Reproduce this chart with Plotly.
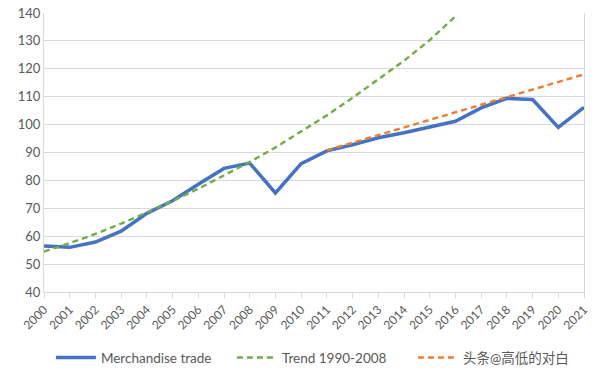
import plotly.graph_objects as go

years = list(range(2000, 2022))
merch = [56.5, 56.0, 57.9, 61.8, 68.2, 72.7, 78.6, 84.3, 86.2, 75.5, 86.0, 90.6,
         92.8, 95.3, 97.1, 99.2, 101.2, 106.0, 109.4, 109.0, 99.0, 106.2]
trend_years = list(range(2000, 2017))
trend_9008 = [54.5, 57.5, 60.8, 64.5, 68.5, 72.6, 77.0, 81.7, 86.6, 91.8, 97.4,
              103.3, 109.6, 116.1, 122.9, 130.3, 138.8]
trend2_years = list(range(2011, 2022))
trend_2 = [90.8, 93.5, 96.2, 99.0, 101.7, 104.4, 107.1, 109.8, 112.6, 115.3, 118.0]

names = ["Merchandise trade", "Trend 1990-2008", "头条@高低的对白"]
yticks = list(range(40, 150, 10))

FONT = "Lato, 'Noto Sans CJK SC', sans-serif"
GRAY = "#595959"

fig = go.Figure()
fig.add_trace(go.Scatter(x=years, y=merch, mode="lines", name=names[0],
                         line=dict(color="#4472C4", width=3.5)))
fig.add_trace(go.Scatter(x=trend_years, y=trend_9008, mode="lines", name=names[1],
                         line=dict(color="#70AD47", width=2.4, dash="6px,4px")))
fig.add_trace(go.Scatter(x=trend2_years, y=trend_2, mode="lines", name=names[2],
                         line=dict(color="#ED7D31", width=2.4, dash="6px,4px")))

fig.update_layout(
    width=599, height=377,
    margin=dict(l=44, r=15, t=13, b=85, autoexpand=False),
    paper_bgcolor="white", plot_bgcolor="white",
    font=dict(family=FONT, size=12, color=GRAY),
    showlegend=True,
    legend=dict(orientation="h", xref="container", yref="container",
                x=0.085, xanchor="left", y=0.051, yanchor="middle",
                font=dict(size=13.5, color=GRAY), itemwidth=40, tracegroupgap=0,
                entrywidth=126, entrywidthmode="pixels"),
    xaxis=dict(range=[2000, 2021], tickmode="array", tickvals=years,
               ticktext=[str(y) for y in years], tickangle=-45, automargin=False,
               showgrid=False, showline=True, linecolor="#D9D9D9", linewidth=1,
               ticks="outside", ticklen=5, tickcolor="#D9D9D9",
               tickfont=dict(size=12, color=GRAY), zeroline=False),
    yaxis=dict(range=[40, 140], tickmode="array", tickvals=yticks, automargin=False,
               showgrid=True, gridcolor="#D9D9D9", gridwidth=1,
               showline=True, linecolor="#D9D9D9", mirror=True,
               ticks="", tickfont=dict(size=13, color=GRAY), zeroline=False),
)

fig.write_html("out.html", config={"displayModeBar": False},
               post_script="document.body.style.margin='0';document.body.style.padding='0';")
